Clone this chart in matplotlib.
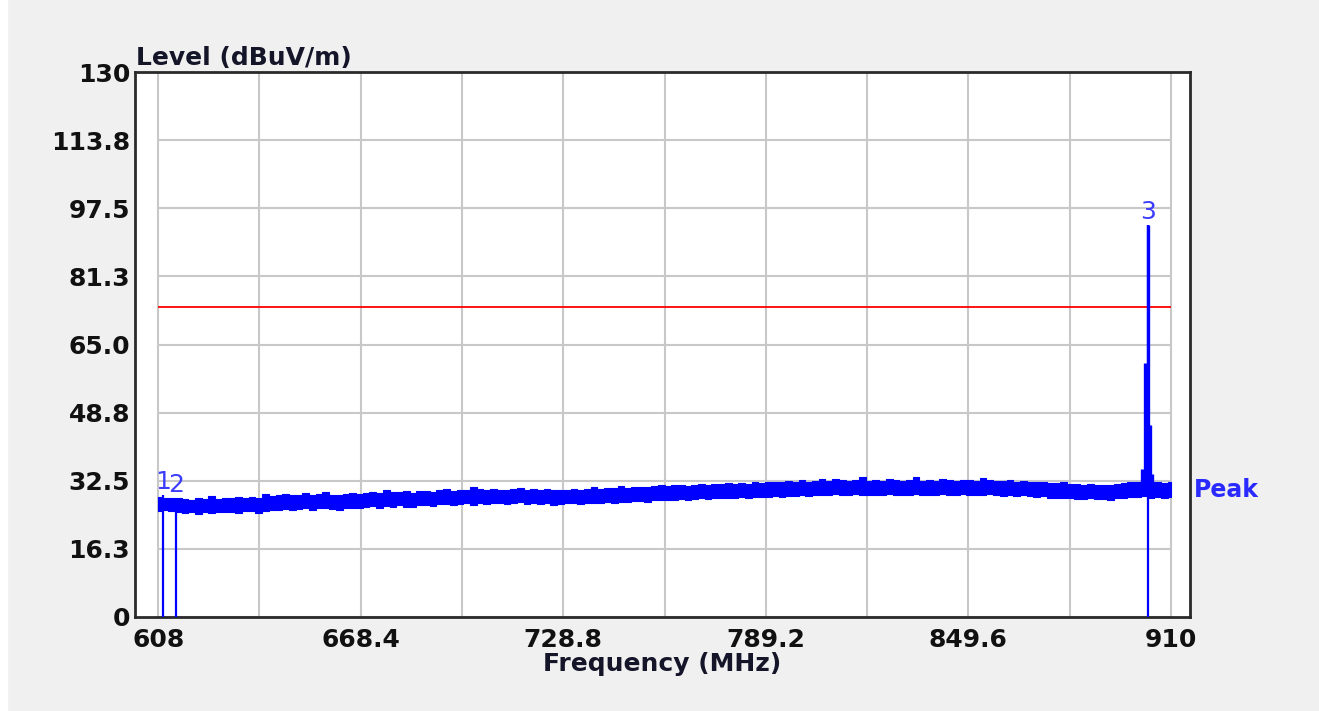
"""Radiated emission scan 608-910 MHz (peak detector) against the limit line."""

import matplotlib

matplotlib.use("Agg")
import matplotlib.pyplot as plt
import numpy as np
from matplotlib.patches import Rectangle

BIN_START_MHZ = 608.0
BIN_STEP_MHZ = 2.0
TRACE_LOW = [
    25.2, 25.5, 25.3, 25.0, 24.9, 25.1, 24.6, 25.0, 24.9, 25.1,
    25.1, 25.0, 24.8, 25.3, 25.2, 24.7, 25.4, 25.5, 25.6, 25.7,
    25.6, 25.8, 25.9, 25.5, 25.9, 26.0, 25.8, 25.6, 26.1, 26.0,
    25.9, 26.2, 26.4, 26.1, 26.5, 26.2, 26.6, 26.3, 26.2, 26.7,
    26.8, 26.5, 26.9, 27.0, 26.7, 26.9, 27.1, 26.8, 27.2, 27.0,
    27.2, 27.1, 26.9, 27.3, 27.4, 27.0, 27.2, 26.9, 27.1, 26.8,
    27.0, 27.1, 27.2, 27.0, 27.1, 27.3, 27.2, 27.4, 27.3, 27.5,
    27.4, 27.6, 27.7, 27.5, 27.8, 27.9, 27.8, 28.0, 28.1, 27.9,
    28.2, 28.3, 28.1, 28.4, 28.3, 28.5, 28.4, 28.6, 28.5, 28.7,
    28.6, 28.7, 28.8, 28.7, 28.9, 28.8, 29.0, 28.9, 29.1, 29.2,
    29.1, 29.3, 29.2, 29.0, 29.3, 29.1, 29.0, 29.2, 29.1, 29.3,
    29.2, 29.1, 29.2, 29.3, 29.0, 29.2, 29.1, 29.3, 29.2, 29.0,
    29.3, 29.2, 29.1, 29.2, 29.3, 29.0, 28.9, 29.1, 28.9, 29.0,
    28.8, 28.6, 28.8, 28.5, 28.4, 28.5, 28.3, 28.2, 28.1, 28.3,
    28.1, 28.2, 28.0, 28.3, 28.4, 28.6, 28.7, 28.8, 28.5, 28.6,
    28.5, 28.7,
]
TRACE_HIGH = [
    28.7, 28.5, 28.3, 28.4, 28.1, 28.0, 28.5, 28.1, 28.9, 28.2,
    28.4, 28.3, 28.6, 28.3, 28.7, 28.4, 29.4, 28.9, 29.0, 29.3,
    29.0, 29.2, 29.5, 29.0, 29.3, 29.9, 29.2, 29.1, 29.4, 29.5,
    29.4, 29.6, 29.8, 29.5, 30.3, 29.7, 29.9, 30.0, 29.6, 30.1,
    30.0, 29.9, 30.2, 30.6, 30.1, 30.3, 30.4, 30.9, 30.5, 30.3,
    30.5, 30.4, 30.3, 30.6, 30.7, 30.4, 30.6, 30.3, 30.5, 30.2,
    30.3, 30.4, 30.6, 30.3, 30.5, 31.1, 30.5, 30.7, 30.8, 31.3,
    30.8, 31.0, 31.1, 30.9, 31.3, 31.6, 31.2, 31.4, 31.5, 31.3,
    31.6, 31.7, 31.5, 31.8, 31.7, 31.9, 31.8, 32.0, 31.8, 32.3,
    32.0, 32.1, 32.2, 32.1, 32.4, 32.2, 32.6, 32.3, 32.5, 33.0,
    32.5, 32.8, 32.6, 32.5, 32.7, 33.3, 32.5, 32.6, 32.5, 32.8,
    32.6, 32.5, 32.7, 33.4, 32.5, 32.6, 32.5, 32.8, 32.6, 32.5,
    32.7, 32.6, 32.5, 33.2, 32.7, 32.5, 32.4, 32.6, 32.3, 32.5,
    32.2, 32.1, 32.3, 32.0, 31.9, 32.1, 31.8, 31.7, 31.6, 31.8,
    31.5, 31.6, 31.5, 31.8, 31.9, 32.1, 32.3, 32.4, 31.9, 32.1,
    31.9, 32.2,
]

# Narrowband emission around marker 3 (frequency MHz, level dBuV/m).
SPIKE_MHZ = [901.5, 902.3, 903.1, 903.8, 904.4]
SPIKE_DBUV = [35.2, 60.5, 93.5, 45.8, 34.0]

MARKER_MHZ = [609.4, 613.4, 903.1]
MARKER_DBUV = [29.0, 28.2, 93.5]
MARKER_LABELS = ["1", "2", "3"]

LIMIT_DBUV = 74.0
LIMIT_SPAN_MHZ = (608.0, 910.0)

X_TICKS = [608.0, 668.4, 728.8, 789.2, 849.6, 910.0]
X_TICK_LABELS = ["608", "668.4", "728.8", "789.2", "849.6", "910"]
X_HALF_GRID = [638.2, 698.6, 759.0, 819.4, 879.8]
Y_TICKS = [0.0, 16.25, 32.5, 48.75, 65.0, 81.25, 97.5, 113.75, 130.0]
Y_TICK_LABELS = ["0", "16.3", "32.5", "48.8", "65.0", "81.3", "97.5", "113.8", "130"]

BLUE = "#0000ff"
MARKER_BLUE = "#3c3cff"
TEXT_DARK = "#15152a"
GRID = "#c8c8c8"


def main() -> None:
    fig = plt.figure(figsize=(13.19, 7.11), dpi=100, facecolor="#f0f0f0")
    fig.patches.append(Rectangle((0, 0), 7 / 1319, 1, transform=fig.transFigure, color="white", zorder=0))
    ax = fig.add_axes([135 / 1319, 1 - 617 / 711, 1055 / 1319, 545 / 711])
    ax.set_facecolor("white")
    ax.set_xlim(601.1, 915.7)
    ax.set_ylim(0, 130)

    # grid only spans the scan range, not the whole frame
    ax.vlines(X_TICKS + X_HALF_GRID, 0, 130, colors=GRID, lw=1.5, zorder=1)
    ax.hlines(Y_TICKS, LIMIT_SPAN_MHZ[0], LIMIT_SPAN_MHZ[1], colors=GRID, lw=1.5, zorder=1)

    ax.hlines(LIMIT_DBUV, *LIMIT_SPAN_MHZ, colors="#ff0000", lw=1.3, zorder=2)

    freq = BIN_START_MHZ + BIN_STEP_MHZ * np.arange(len(TRACE_LOW))
    ax.fill_between(freq, TRACE_LOW, TRACE_HIGH, step="mid", color=BLUE, lw=0.8, zorder=3)
    ax.vlines(SPIKE_MHZ, 29.0, SPIKE_DBUV, colors=BLUE, lw=2.4, zorder=3)

    ax.vlines(MARKER_MHZ, 0, MARKER_DBUV, colors=BLUE, lw=1.6, zorder=4)
    for f, lvl, lab in zip(MARKER_MHZ, MARKER_DBUV, MARKER_LABELS):
        ax.annotate(lab, xy=(f, lvl), xytext=(0, 1.0), textcoords="offset points",
                    ha="center", va="bottom", fontsize=18, color=MARKER_BLUE, zorder=5)

    ax.annotate("Peak", xy=(1.0, TRACE_HIGH[-1] - 1.8), xycoords=ax.get_yaxis_transform(),
                xytext=(2.5, 0), textcoords="offset points", ha="left", va="center",
                fontsize=17, fontweight="bold", color="#2a2aff", annotation_clip=False)

    ax.set_xticks(X_TICKS, X_TICK_LABELS)
    ax.set_yticks(Y_TICKS, Y_TICK_LABELS)
    ax.tick_params(axis="both", length=0, labelsize=18, labelcolor="#111111")
    ax.tick_params(axis="x", pad=8)
    ax.tick_params(axis="y", pad=3.5)
    for lab in ax.get_xticklabels() + ax.get_yticklabels():
        lab.set_fontweight("bold")

    ax.set_xlabel("Frequency (MHz)", fontsize=18, fontweight="bold", color=TEXT_DARK, labelpad=0)
    ax.annotate("Level (dBuV/m)", xy=(0, 1), xycoords="axes fraction", xytext=(1, 5),
                textcoords="offset points", ha="left", va="baseline",
                fontsize=18, fontweight="bold", color=TEXT_DARK)

    for spine in ax.spines.values():
        spine.set_color("#2a2a2a")
        spine.set_linewidth(2)

    fig.savefig("out.png", dpi=100, facecolor=fig.get_facecolor())
    plt.close(fig)


if __name__ == "__main__":
    main()
